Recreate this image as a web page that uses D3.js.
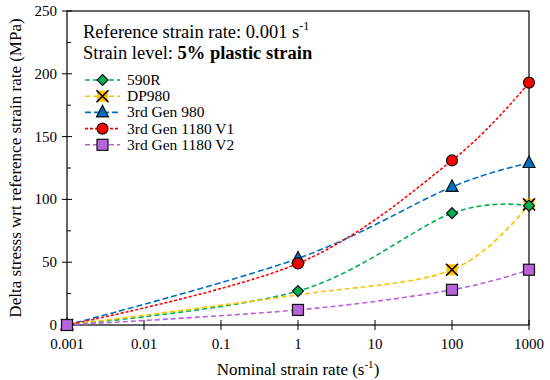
<!doctype html>
<html>
<head>
<meta charset="utf-8">
<script src="https://d3js.org/d3.v7.min.js"></script>
<style>
  body { margin: 0; background: #fff; }
</style>
</head>
<body>
<script>
// data
var rates = [0.001, 1, 100, 1000];
var s590R   = [0, 27, 89, 95];
var sDP980  = [0, 24, 44, 96];
var s980    = [0, 53, 110, 129];
var s1180V1 = [0, 49, 131, 193];
var s1180V2 = [0, 12, 28, 44];
var seriesNames = ["590R", "DP980", "3rd Gen 980", "3rd Gen 1180 V1", "3rd Gen 1180 V2"];
var xTicks = [0.001, 0.01, 0.1, 1, 10, 100, 1000];
var yTicks = [0, 50, 100, 150, 200, 250];

var margin = {top: 11, right: 21, bottom: 55, left: 67},
    width = 550 - margin.left - margin.right,
    height = 380 - margin.top - margin.bottom;

var x = d3.scaleLog().domain([0.001, 1000]).range([0, width]);
var y = d3.scaleLinear().domain([0, 250]).range([height, 0]);

var styles = [
  {color: "#00B050", dash: "5,3", shape: "diamond"},
  {color: "#FFC000", dash: "5,3", shape: "cross", hide: [1]},
  {color: "#0070C0", dash: "6,3", shape: "triangle"},
  {color: "#FF0000", dash: "3,2", shape: "circle"},
  {color: "#B565D9", dash: "5,3", shape: "square"}
];
var values = [s590R, sDP980, s980, s1180V1, s1180V2];

var svg = d3.select("body").append("svg")
    .attr("width", 550)
    .attr("height", 380)
    .attr("font-family", "'Liberation Serif', 'Times New Roman', Times, serif");
var g = svg.append("g")
    .attr("transform", "translate(" + margin.left + "," + margin.top + ")");

// frame
g.append("rect")
    .attr("width", width).attr("height", height)
    .attr("fill", "none").attr("stroke", "#000").attr("stroke-width", 1.2);

// y ticks
yTicks.forEach(function(t) {
  g.append("line").attr("x1", -5).attr("x2", 5)
    .attr("y1", y(t)).attr("y2", y(t)).attr("stroke", "#000");
  g.append("text").attr("x", -10).attr("y", y(t) + 5)
    .attr("text-anchor", "end").attr("font-size", "15px").text(t);
});
for (var m = 25; m < 250; m += 50) {
  g.append("line").attr("x1", 0).attr("x2", 4)
    .attr("y1", y(m)).attr("y2", y(m)).attr("stroke", "#000");
}
// x ticks
xTicks.forEach(function(t) {
  g.append("line").attr("x1", x(t)).attr("x2", x(t))
    .attr("y1", height - 5).attr("y2", height + 5).attr("stroke", "#000");
  g.append("text").attr("x", x(t)).attr("y", height + 24)
    .attr("text-anchor", "middle").attr("font-size", "15px").text(t);
});

// axis titles
var xl = svg.append("text").attr("x", 298).attr("y", 375)
    .attr("text-anchor", "middle").attr("font-size", "17px");
xl.append("tspan").text("Nominal strain rate (s");
xl.append("tspan").attr("font-size", "11px").attr("dy", -7).text("-1");
xl.append("tspan").attr("dy", 7).text(")");

svg.append("text")
    .attr("transform", "translate(21," + (margin.top + height / 2) + ") rotate(-90)")
    .attr("text-anchor", "middle").attr("font-size", "17px")
    .text("Delta stresss wrt reference strain rate (MPa)");

// annotation
var t1 = svg.append("text").attr("x", 83).attr("y", 38).attr("font-size", "18.5px");
t1.append("tspan").text("Reference strain rate: 0.001 s");
t1.append("tspan").attr("font-size", "12px").attr("dy", -8).text("-1");
var t2 = svg.append("text").attr("x", 83).attr("y", 59).attr("font-size", "18.5px");
t2.append("tspan").text("Strain level: ");
t2.append("tspan").attr("font-weight", "bold").text("5% plastic strain");

function marker(sel, shape, color) {
  sel.attr("stroke", "#111").attr("stroke-width", 1.2);
  if (shape === "diamond") {
    sel.append("path").attr("d", "M0,-5.5L5.5,0L0,5.5L-5.5,0Z").attr("fill", color);
  } else if (shape === "triangle") {
    sel.append("path").attr("d", "M0,-7L6,4.5L-6,4.5Z").attr("fill", color);
  } else if (shape === "circle") {
    sel.append("circle").attr("r", 5.5).attr("fill", color);
  } else if (shape === "square") {
    sel.append("rect").attr("x", -5.5).attr("y", -5.5).attr("width", 11).attr("height", 11).attr("fill", color);
  } else if (shape === "cross") {
    sel.append("rect").attr("x", -5.5).attr("y", -5.5).attr("width", 11).attr("height", 11)
      .attr("fill", color).attr("stroke", "none");
    sel.append("path").attr("d", "M-6,-6L6,6M6,-6L-6,6").attr("stroke", "#000").attr("stroke-width", 1.6);
  }
}

var line = d3.line()
    .x(function(d) { return x(d[0]); })
    .y(function(d) { return y(d[1]); })
    .curve(d3.curveCatmullRom.alpha(0));

values.forEach(function(vals, i) {
  var pts = rates.map(function(r, j) { return [r, vals[j]]; });
  var st = styles[i];
  g.append("path").datum(pts)
    .attr("d", line)
    .attr("fill", "none").attr("stroke", st.color)
    .attr("stroke-width", 1.6).attr("stroke-dasharray", st.dash);
});
// markers: 590R on top of DP980 at x=1, V2 on top at origin
[1, 0, 2, 3, 4].forEach(function(i) {
  var st = styles[i];
  rates.forEach(function(r, j) {
    if (st.hide && st.hide.indexOf(j) >= 0) return;
    var mk = g.append("g").attr("transform", "translate(" + x(r) + "," + y(values[i][j]) + ")");
    marker(mk, st.shape, st.color);
  });
});

// legend
seriesNames.forEach(function(name, i) {
  var st = styles[i];
  var ly = 80 + i * 16.2;
  svg.append("line").attr("x1", 85).attr("x2", 120).attr("y1", ly).attr("y2", ly)
    .attr("stroke", st.color).attr("stroke-width", 1.6).attr("stroke-dasharray", st.dash);
  var mk = svg.append("g").attr("transform", "translate(102.5," + ly + ")");
  marker(mk, st.shape, st.color);
  svg.append("text").attr("x", 127).attr("y", ly + 5).attr("font-size", "15.5px").text(name);
});
</script>
</body>
</html>
